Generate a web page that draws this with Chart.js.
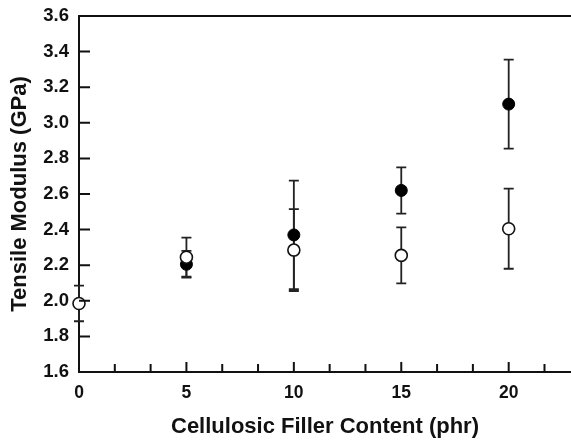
<!DOCTYPE html>
<html>
<head>
<meta charset="utf-8">
<script src="https://cdn.jsdelivr.net/npm/chart.js@4"></script>
<style>
  html, body { margin: 0; padding: 0; background: #fff; }
  #wrap { width: 571px; height: 442px; position: relative; }
</style>
</head>
<body>
<div id="wrap"><canvas id="chart"></canvas></div>
<script>
// Dados
const fillerContent = [0, 5, 10, 15, 20];
const modulusFilled = [null, 2.205, 2.37, 2.62, 3.105];
const errorFilled = [null, 0.075, 0.305, 0.13, 0.25];
const modulusOpen = [1.985, 2.245, 2.285, 2.255, 2.405];
const errorOpen = [0.1, 0.11, 0.23, 0.157, 0.225];
const xMajorTicks = [0, 5, 10, 15, 20];
const xMinorTicks = [5 / 3, 10 / 3, 20 / 3, 25 / 3, 35 / 3, 40 / 3, 50 / 3, 55 / 3, 65 / 3];
const yTicks = [1.8, 2.0, 2.2, 2.4, 2.6, 2.8, 3.0, 3.2, 3.4];

const fonte = "'Liberation Sans', Arial, sans-serif";

function toPoints(values) {
    return fillerContent.map((x, i) => ({ x: x, y: values[i] }));
}

// Barras de erro desenhadas com as escalas do próprio Chart.js
const errorBarsPlugin = {
    id: "errorBars",
    beforeDatasetsDraw(chart) {
        const ctx = chart.ctx;
        const xs = chart.scales.x;
        const ys = chart.scales.y;
        const series = [
            { values: modulusFilled, errors: errorFilled },
            { values: modulusOpen, errors: errorOpen }
        ];
        ctx.save();
        ctx.strokeStyle = "#222";
        ctx.lineWidth = 1.8;
        series.forEach(s => {
            fillerContent.forEach((x, i) => {
                if (s.values[i] == null) return;
                const px = xs.getPixelForValue(x);
                const top = ys.getPixelForValue(s.values[i] + s.errors[i]);
                const bot = ys.getPixelForValue(s.values[i] - s.errors[i]);
                ctx.beginPath();
                ctx.moveTo(px, top);
                ctx.lineTo(px, bot);
                ctx.moveTo(px - 5, top);
                ctx.lineTo(px + 5, top);
                ctx.moveTo(px - 5, bot);
                ctx.lineTo(px + 5, bot);
                ctx.stroke();
            });
        });
        ctx.restore();
    }
};

// Ticks para dentro e linha superior do quadro
const frameTicksPlugin = {
    id: "frameTicks",
    afterDraw(chart) {
        const ctx = chart.ctx;
        const area = chart.chartArea;
        const xs = chart.scales.x;
        const ys = chart.scales.y;
        ctx.save();
        ctx.strokeStyle = "#111";
        ctx.lineWidth = 2;
        ctx.beginPath();
        ctx.moveTo(area.left - 1, area.top);
        ctx.lineTo(area.right, area.top);
        xMajorTicks.forEach(v => {
            const px = xs.getPixelForValue(v);
            ctx.moveTo(px, area.bottom);
            ctx.lineTo(px, area.bottom - 10);
        });
        xMinorTicks.forEach(v => {
            const px = xs.getPixelForValue(v);
            ctx.moveTo(px, area.bottom);
            ctx.lineTo(px, area.bottom - 8);
        });
        yTicks.forEach(v => {
            const py = ys.getPixelForValue(v);
            ctx.moveTo(area.left, py);
            ctx.lineTo(area.left + 11, py);
        });
        ctx.stroke();
        ctx.restore();
    }
};

new Chart(document.getElementById("chart"), {
    type: "scatter",
    data: {
        datasets: [
            {
                label: "Aberto",
                data: toPoints(modulusOpen),
                pointRadius: 6,
                pointBackgroundColor: "#fff",
                pointBorderColor: "#111",
                pointBorderWidth: 1.6,
                showLine: false,
                clip: false
            },
            {
                label: "Preenchido",
                data: toPoints(modulusFilled),
                pointRadius: 6,
                pointBackgroundColor: "#000",
                pointBorderColor: "#000",
                pointBorderWidth: 1,
                showLine: false,
                clip: false
            }
        ]
    },
    options: {
        responsive: true,
        maintainAspectRatio: false,
        animation: false,
        layout: { autoPadding: false, padding: { top: 16, right: 0, left: 0, bottom: 0 } },
        plugins: {
            legend: { display: false },
            tooltip: { enabled: false }
        },
        scales: {
            x: {
                type: "linear",
                min: 0,
                max: 22.9,
                afterBuildTicks: scale => {
                    scale.ticks = xMajorTicks.map(v => ({ value: v }));
                },
                afterFit: scale => {
                    scale.height = 70;
                    scale.paddingLeft = 0;
                    scale.paddingRight = 0;
                },
                grid: { display: false, drawTicks: false },
                border: { display: true, color: "#111", width: 2 },
                ticks: {
                    padding: 11,
                    color: "#111",
                    font: { family: fonte, size: 17.5, weight: "bold" },
                    maxRotation: 0
                },
                title: {
                    display: true,
                    text: "Cellulosic Filler Content (phr)",
                    color: "#111",
                    font: { family: fonte, size: 22, weight: "bold" },
                    padding: { top: 2, bottom: 2 }
                }
            },
            y: {
                min: 1.6,
                max: 3.6,
                afterBuildTicks: scale => {
                    scale.ticks = [1.6].concat(yTicks, [3.6]).map(v => ({ value: v }));
                },
                afterFit: scale => {
                    scale.width = 79;
                    scale.paddingTop = 0;
                    scale.paddingBottom = 0;
                },
                grid: { display: false, drawTicks: false },
                border: { display: true, color: "#111", width: 2 },
                ticks: {
                    padding: 10,
                    color: "#111",
                    font: { family: fonte, size: 18.5, weight: "bold" },
                    callback: v => Number(v).toFixed(1)
                },
                title: {
                    display: true,
                    text: "Tensile Modulus (GPa)",
                    color: "#111",
                    font: { family: fonte, size: 22, weight: "bold" },
                    padding: { top: 7, bottom: 2 }
                }
            }
        }
    },
    plugins: [errorBarsPlugin, frameTicksPlugin]
});
</script>
</body>
</html>
